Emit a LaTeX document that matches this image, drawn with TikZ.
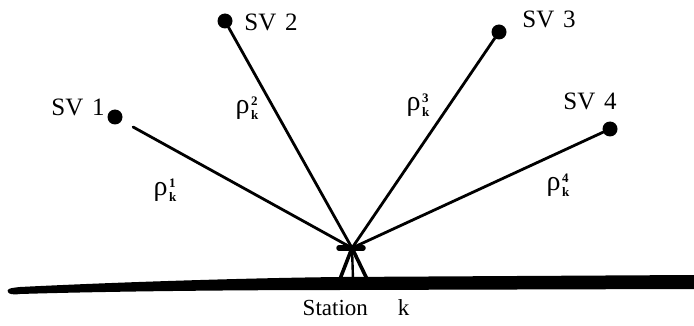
\documentclass[tikz,border=0pt]{standalone}
\usepackage{fontspec}
\setmainfont{Liberation Serif}
\newcommand{\rhok}[1]{{\fontsize{28}{28}\selectfont ρ}\hspace{1.5pt}\raisebox{-6pt}{\fontsize{13}{12}\selectfont\bfseries\shortstack[l]{#1\\[1.5pt]k}}}
\begin{document}
\begin{tikzpicture}[x=1pt,y=-1pt,
  sat/.style={circle,fill=black,inner sep=0pt,minimum size=15pt},
  satlabel/.style={font=\fontsize{25}{25}\selectfont,inner sep=0pt},
  stlabel/.style={font=\fontsize{23}{23}\selectfont,inner sep=0pt},
  rholabel/.style={inner sep=0pt},
  ray/.style={line width=2.8pt,line cap=round},
  leg/.style={line width=3.6pt,line cap=round}]
\useasboundingbox (0,0) rectangle (694,326);
% satellites
\node[sat] (s1) at (115,117) {};
\node[sat] (s2) at (225,21) {};
\node[sat] (s3) at (499,32) {};
\node[sat] (s4) at (610,129) {};
\node[satlabel] (l1) at (78,107) {SV\hspace{0.35em}1};
\node[satlabel] (l2) at (271,22) {SV\hspace{0.35em}2};
\node[satlabel] (l3) at (549,19) {SV\hspace{0.35em}3};
\node[satlabel] (l4) at (590,101) {SV\hspace{0.35em}4};
% station
\coordinate (apex) at (352,248);
\coordinate (cbl) at (339,248);
\coordinate (cbr) at (363,248);
\coordinate (fl) at (340,279);
\coordinate (fm) at (353,279);
\coordinate (fr) at (367,279);
% ground
\fill (8,292) .. controls (6,289) and (10,288) .. (20,287)
  .. controls (120,282) and (250,278) .. (340,277)
  -- (694,275) -- (694,289) -- (340,290)
  .. controls (250,290) and (120,291) .. (20,294)
  .. controls (12,295) and (9,294) .. (8,292) -- cycle;
% rays
\draw[ray,shorten <=13pt] (s1) -- (apex);
\draw[ray] (s2) -- (apex);
\draw[ray] (s3) -- (apex);
\draw[ray] (s4) -- (apex);
% tripod
\draw[leg] (apex) -- (fl);
\draw[leg] (apex) -- (fr);
\draw[line width=2.4pt] (apex) -- (fm);
\draw[line width=5.5pt,line cap=round] (cbl) -- (cbr);
% labels
\node[rholabel] (r1) at (165,190) {\rhok{1}};
\node[rholabel] (r2) at (247,108) {\rhok{2}};
\node[rholabel] (r3) at (418,105) {\rhok{3}};
\node[rholabel] (r4) at (558,185) {\rhok{4}};
\node[stlabel] (st) at (356,308) {Station\hspace{1.3em}k};
\end{tikzpicture}
\end{document}
